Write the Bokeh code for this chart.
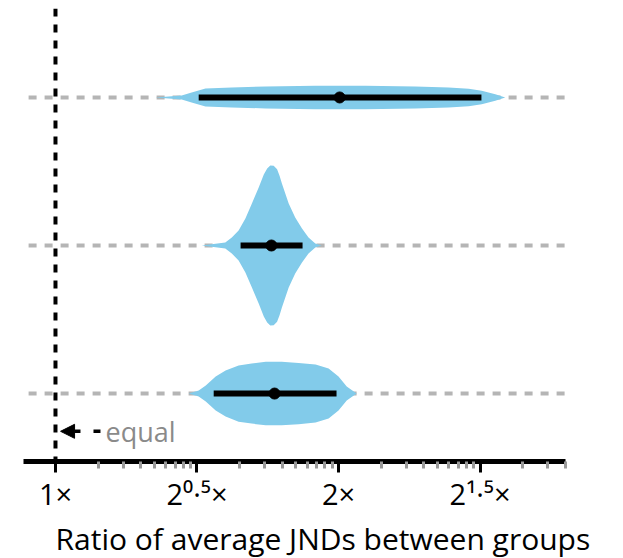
import numpy as np
from bokeh.plotting import figure
from bokeh.models import Range1d, FixedTicker, Span, Arrow, NormalHead, Label, Title
from bokeh.embed import file_html
from bokeh.resources import INLINE

# ---------------- data (x in log2 of ratio) ----------------
group_y = [2, 1, 0]   # row positions: top, middle, bottom

# violin profiles: x (log2 ratio) and half-height (row units)
v_top_x = [0.353, 0.446, 0.481, 0.530, 0.623, 0.742, 0.918, 1.095, 1.271, 1.389, 1.460, 1.506, 1.554, 1.589]
v_top_h = [0.0, 0.014, 0.034, 0.061, 0.068, 0.074, 0.079, 0.079, 0.074, 0.068, 0.059, 0.045, 0.022, 0.0]

v_mid_x = [0.517, 0.600, 0.623, 0.647, 0.671, 0.694, 0.718, 0.736, 0.748, 0.759, 0.771, 0.783, 0.792, 0.800, 0.824, 0.847, 0.871, 0.894, 0.918, 0.940]
v_mid_h = [0.0, 0.020, 0.054, 0.101, 0.182, 0.284, 0.392, 0.480, 0.520, 0.540, 0.538, 0.515, 0.470, 0.419, 0.284, 0.189, 0.115, 0.054, 0.014, 0.0]

v_bot_x = [0.471, 0.506, 0.531, 0.566, 0.601, 0.647, 0.693, 0.743, 0.799, 0.859, 0.919, 0.965, 1.000, 1.029, 1.064]
v_bot_h = [0.0, 0.020, 0.054, 0.115, 0.155, 0.190, 0.203, 0.214, 0.214, 0.207, 0.196, 0.169, 0.115, 0.047, 0.0]

means = [1.004, 0.763, 0.774]
ci_low = [0.506, 0.654, 0.559]
ci_high = [1.505, 0.873, 0.993]

major_ticks = [0.0, 0.5, 1.0, 1.5]
tick_labels = ["1×", "2⁰·⁵×", "2×", "2¹·⁵×"]
minor_ticks = [0.5 * k + 0.5 * np.log10(m) for k in range(0, 4) for m in range(2, 10)]
minor_ticks = [t for t in minor_ticks if t <= 1.802]

x_label = "Ratio of average JNDs between groups"
equal_text = "equal"

FONT = "Open Sans"
BLUE = "#82cbea"

p = figure(width=623, height=558, output_backend="svg", toolbar_location=None,
           x_range=Range1d(-0.113, 1.802), y_range=Range1d(-0.459, 2.601),
           y_axis_location=None, min_border_left=23, min_border_right=58,
           min_border_top=8, min_border_bottom=0)
p.grid.visible = False
p.outline_line_color = None
p.background_fill_color = "white"
p.border_fill_color = "white"

# horizontal dashed guide lines
p.segment(x0=[-0.095] * 3, x1=[1.802] * 3, y0=group_y, y1=group_y,
          line_color="#b5b5b5", line_width=4, line_dash="8 8")

# vertical "equal" line
p.add_layout(Span(location=0, dimension="height", line_color="black",
                  line_width=4, line_dash="8 8"))

# violins
for vx, vh, gy in [(v_top_x, v_top_h, group_y[0]), (v_mid_x, v_mid_h, group_y[1]),
                   (v_bot_x, v_bot_h, group_y[2])]:
    vx = np.array(vx)
    vh = np.array(vh)
    p.varea(x=vx, y1=gy - vh, y2=gy + vh, fill_color=BLUE)

# CI bars and means
p.segment(x0=ci_low, x1=ci_high, y0=group_y, y1=group_y, line_color="black",
          line_width=6)
p.scatter(x=means, y=group_y, size=11, color="black")

# arrow + 'equal'
p.add_layout(Arrow(end=NormalHead(size=14, fill_color="black", line_color="black", line_width=1),
                   x_start=0.159, y_start=-0.255, x_end=0.018, y_end=-0.255,
                   line_color="black", line_width=3.5, line_dash="7 13"))
p.add_layout(Label(x=0.177, y=-0.255, text=equal_text, text_font=FONT,
                   text_font_size="27px", text_color="#8a8a8a",
                   text_baseline="middle", text_align="left"))

ax = p.xaxis[0]
ax.ticker = FixedTicker(ticks=major_ticks, minor_ticks=minor_ticks)
ax.major_label_overrides = {t: l for t, l in zip(major_ticks, tick_labels)}
ax.axis_line_width = 5
ax.axis_line_color = "black"
ax.major_tick_line_width = 3
ax.major_tick_line_color = "black"
ax.major_tick_out = 11
ax.major_tick_in = 0
ax.minor_tick_line_width = 3
ax.minor_tick_line_color = "#9a9a9a"
ax.minor_tick_out = 7
ax.minor_tick_in = 0
ax.major_label_text_font = FONT
ax.major_label_text_font_size = "29px"
ax.major_label_text_color = "black"
ax.major_label_standoff = 1

# axis title placed below, shifted right like the reference
p.add_layout(Title(text=x_label, text_font=FONT, text_font_size="30px",
                   text_font_style="normal", text_color="black",
                   align="left", offset=32, standoff=0), "below")

open("out.html", "w").write(file_html(p, INLINE))
